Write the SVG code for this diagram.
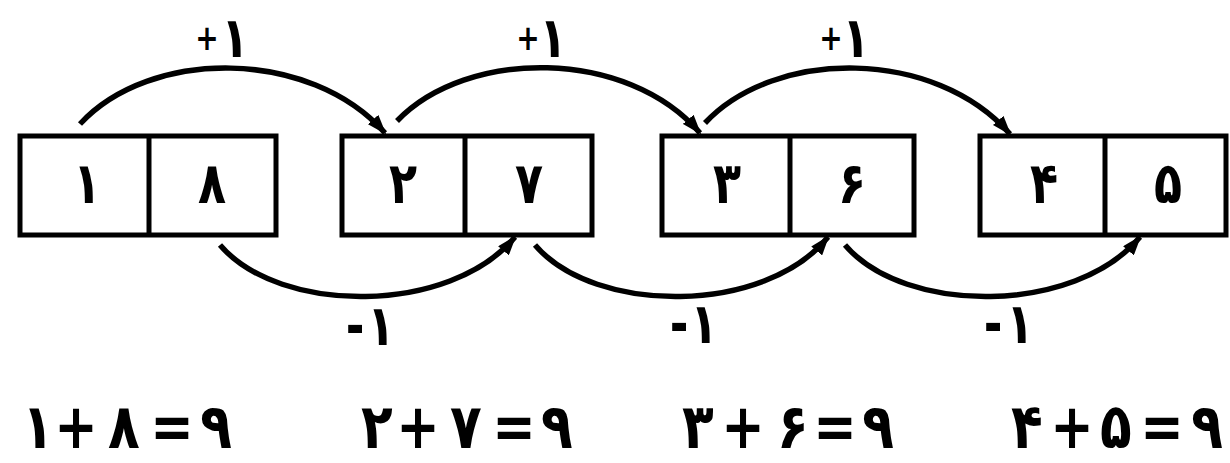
<svg xmlns="http://www.w3.org/2000/svg" width="1230" height="463" viewBox="0 0 1230 463">
<style>
.cell{fill:#fff;stroke:#000;stroke-width:5}
.div{stroke:#000;stroke-width:5}
.dg{font-family:"DejaVu Sans",sans-serif;font-weight:bold;font-size:46px;text-anchor:middle;fill:#000}
.lb{font-family:"DejaVu Sans",sans-serif;font-weight:bold;font-size:45px;text-anchor:middle;fill:#000}
.sm{font-size:28px}
.eq{font-family:"DejaVu Sans",sans-serif;font-weight:bold;font-size:52px;text-anchor:middle;fill:#000}
.arc{fill:none;stroke:#000;stroke-width:5.5;marker-end:url(#ah)}
</style>
<defs>
<marker id="ah" markerUnits="userSpaceOnUse" markerWidth="20" markerHeight="14" refX="18" refY="7" orient="auto">
<path d="M0,0 L20,7 L0,14 Z" fill="#000"/>
</marker>
</defs>
<rect width="1230" height="463" fill="#fff"/>
<g id="box1">
<rect class="cell" x="20" y="136" width="256" height="99"/>
<line class="div" x1="149" y1="136" x2="149" y2="235"/>
<text class="dg" transform="translate(0,203) scale(1,1.25)" x="87" y="0">۱</text>
<text class="dg" transform="translate(0,203) scale(1,1.25)" x="212" y="0">۸</text>
</g>
<g id="box2">
<rect class="cell" x="342" y="136" width="250" height="99"/>
<line class="div" x1="465" y1="136" x2="465" y2="235"/>
<text class="dg" transform="translate(0,203) scale(1,1.25)" x="403" y="0">۲</text>
<text class="dg" transform="translate(0,203) scale(1,1.25)" x="529" y="0">۷</text>
</g>
<g id="box3">
<rect class="cell" x="662" y="136" width="252" height="99"/>
<line class="div" x1="790" y1="136" x2="790" y2="235"/>
<text class="dg" transform="translate(0,203) scale(1,1.25)" x="727" y="0">۳</text>
<text class="dg" transform="translate(0,203) scale(1,1.25)" x="852" y="0">۶</text>
</g>
<g id="box4">
<rect class="cell" x="980" y="136" width="246" height="99"/>
<line class="div" x1="1105" y1="136" x2="1105" y2="235"/>
<text class="dg" transform="translate(0,203) scale(1,1.25)" x="1044" y="0">۴</text>
<text class="dg" transform="translate(0,203) scale(1,1.25)" x="1168" y="0">۵</text>
</g>
<g id="connectors">
<path class="arc" d="M80,124 C150,48 310,48 385,133"/>
<path class="arc" d="M397,121 C467,48 627,48 700,133"/>
<path class="arc" d="M705,123 C775,48 935,48 1010,134"/>
<path class="arc" d="M220,245 C280,315 450,315 515,237"/>
<path class="arc" d="M535,245 C595,315 765,315 828,237"/>
<path class="arc" d="M845,245 C905,315 1075,315 1140,237"/>
<text class="lb" transform="translate(0,57) scale(1,1.25)" x="207 235" y="0"><tspan class="sm" y="-6">+</tspan><tspan y="0">۱</tspan></text>
<text class="lb" transform="translate(0,57) scale(1,1.25)" x="528 553" y="0"><tspan class="sm" y="-6">+</tspan><tspan y="0">۱</tspan></text>
<text class="lb" transform="translate(0,57) scale(1,1.25)" x="831 856" y="0"><tspan class="sm" y="-6">+</tspan><tspan y="0">۱</tspan></text>
<text class="lb" transform="translate(0,345) scale(1,1.25)" x="355 381" y="0">-۱</text>
<text class="lb" transform="translate(0,343) scale(1,1.25)" x="679 704" y="0">-۱</text>
<text class="lb" transform="translate(0,343) scale(1,1.25)" x="993 1020" y="0">-۱</text>
</g>
<g id="equations">
<text class="eq" transform="translate(0,448) scale(1,1.2)" x="38 76 124 172 216" y="0">۱+۸=۹</text>
<text class="eq" transform="translate(0,448) scale(1,1.2)" x="377 418 466 514 557" y="0">۲+۷=۹</text>
<text class="eq" transform="translate(0,448) scale(1,1.2)" x="698 743 793 835 878" y="0">۳+۶=۹</text>
<text class="eq" transform="translate(0,448) scale(1,1.2)" x="1027 1072 1116 1162 1207" y="0">۴+۵=۹</text>
</g>
</svg>
